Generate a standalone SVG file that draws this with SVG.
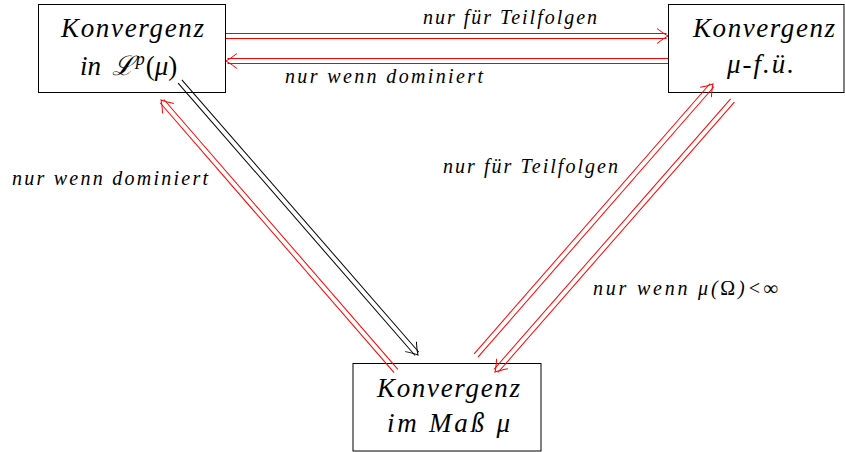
<svg xmlns="http://www.w3.org/2000/svg" xmlns:xlink="http://www.w3.org/1999/xlink" width="845" height="452" viewBox="0 0 845 452">
<style>
.box{fill:#fff;stroke:#000;stroke-width:1}
.red{stroke:#ff0000;fill:none;stroke-width:1}
.blk{stroke:#000;fill:none;stroke-width:1}
</style>
<defs>
<path id="head" d="M-11,-7.5 Q-4,-2 0,0 Q-4,2 -11,7.5"/>
</defs>
<rect width="845" height="452" fill="#fff"/>
<g font-family="Liberation Serif, Times New Roman, serif" font-style="italic" fill="#000">
<g id="lp">
<rect class="box" x="38.5" y="4.5" width="187" height="88"/>
<text font-size="27" x="61" y="37" textLength="143" lengthAdjust="spacing">Konvergenz</text>
<text font-size="27" x="80" y="75">in <tspan dx="4">ℒ</tspan><tspan dx="2" dy="-10" font-size="18">p</tspan><tspan dx="1" dy="10" font-style="normal">(</tspan>μ<tspan font-style="normal">)</tspan></text>
</g>
<g id="fue">
<rect class="box" x="668.5" y="4.5" width="175.5" height="88"/>
<text font-size="27" x="693" y="37" textLength="142" lengthAdjust="spacing">Konvergenz</text>
<text font-size="27" x="727" y="73" textLength="67" lengthAdjust="spacing">μ-f.ü.</text>
</g>
<g id="mass">
<rect class="box" x="353" y="363.5" width="188" height="87.5"/>
<text font-size="27" x="377" y="397" textLength="143" lengthAdjust="spacing">Konvergenz</text>
<text font-size="27" x="387" y="432" textLength="123" lengthAdjust="spacing">im Maß μ</text>
</g>
<g id="labels" font-size="20">
<text x="423" y="24" textLength="174" lengthAdjust="spacing">nur für Teilfolgen</text>
<text x="285" y="82.5" textLength="198" lengthAdjust="spacing">nur wenn dominiert</text>
<text x="443" y="173" textLength="175" lengthAdjust="spacing">nur für Teilfolgen</text>
<text x="12" y="185" textLength="196" lengthAdjust="spacing">nur wenn dominiert</text>
<text x="593" y="295" textLength="185" lengthAdjust="spacing">nur wenn μ(<tspan font-style="normal">Ω</tspan>)&lt;∞</text>
</g>
</g>
<g id="connectors">
<g class="red" transform="translate(668,36)">
<line x1="-442" y1="-2.5" x2="-1.5" y2="-2.5"/><line x1="-442" y1="2.5" x2="-1.5" y2="2.5"/><use xlink:href="#head"/>
</g>
<g class="red" transform="translate(226,61) rotate(180)">
<line x1="-442" y1="-2.5" x2="-1.5" y2="-2.5"/><line x1="-442" y1="2.5" x2="-1.5" y2="2.5"/><use xlink:href="#head"/>
</g>
<g class="blk" transform="translate(418,355) rotate(48.97)">
<line x1="-362.6" y1="-2.5" x2="-1.5" y2="-2.5"/><line x1="-362.6" y1="2.5" x2="-1.5" y2="2.5"/><use xlink:href="#head"/>
</g>
<g class="red" transform="translate(161,100) rotate(229.07)">
<line x1="-358.7" y1="-2.5" x2="-1.5" y2="-2.5"/><line x1="-358.7" y1="2.5" x2="-1.5" y2="2.5"/><use xlink:href="#head"/>
</g>
<g class="red" transform="translate(713,84) rotate(-48.89)">
<line x1="-360.4" y1="-2.5" x2="-1.5" y2="-2.5"/><line x1="-360.4" y1="2.5" x2="-1.5" y2="2.5"/><use xlink:href="#head"/>
</g>
<g class="red" transform="translate(495,372) rotate(131.18)">
<line x1="-360.7" y1="-2.5" x2="-1.5" y2="-2.5"/><line x1="-360.7" y1="2.5" x2="-1.5" y2="2.5"/><use xlink:href="#head"/>
</g>
</g>
</svg>
